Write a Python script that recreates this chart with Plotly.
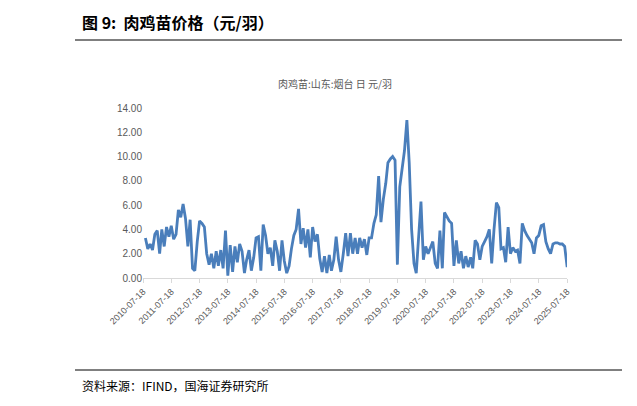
import plotly.graph_objects as go
import pandas as pd

start_month = "2010-07-18"
prices = [
 3.3,2.4,2.8,2.3,3.6,3.9, 2.0,4.0,2.6,4.2,3.4,4.3,
 3.2,3.6,5.6,5.0,6.1,4.9, 2.6,4.8,0.8,0.6,3.0,4.7,
 4.5,4.2,2.0,1.1,2.0,0.8, 2.2,1.0,2.3,0.8,3.9,0.2,
 2.7,0.5,2.6,1.3,2.8,2.2, 0.4,1.5,2.3,0.6,1.7,3.3,
 3.4,0.6,4.4,3.5,2.0,2.5, 1.0,3.1,2.2,0.6,3.1,1.4,
 0.4,1.0,2.4,3.5,4.0,5.7, 2.8,4.1,2.5,4.0,1.7,4.2,
 3.0,3.6,1.6,0.5,1.8,0.4, 1.9,0.6,1.5,3.4,1.5,0.5,
 2.0,3.7,1.8,3.7,2.0,3.3, 2.0,3.3,2.5,3.2,1.9,3.3,
 3.3,4.5,5.2,8.4,4.6,6.5, 7.8,9.5,9.8,10.0,9.7,1.1,
 7.5,9.0,10.5,13.0,9.5,4.0, 1.2,0.4,3.0,6.3,1.5,2.6,
 2.0,2.5,3.0,1.2,0.8,3.9, 0.8,5.4,5.0,4.7,4.5,1.0,
 3.1,1.2,2.2,0.8,1.8,0.9, 1.7,0.8,3.1,2.8,1.5,2.6,
 3.0,3.4,4.0,1.2,4.0,6.2, 5.8,2.4,2.5,1.3,4.2,2.0,
 2.5,2.2,2.3,1.2,4.5,3.9, 3.5,3.2,2.9,2.0,3.3,3.5,
 4.3,4.4,3.0,2.4,2.0,2.8, 2.9,2.9,2.8,2.8,2.6,1.0, 1.0,
]
dates = pd.date_range(start_month, periods=len(prices), freq="MS") + pd.Timedelta(days=17)
tick_labels = [f"{y}-07-18" for y in range(2010, 2026)]
y_ticks = [0, 2, 4, 6, 8, 10, 12, 14]

L, T, W, H = 135, 100, 424, 170
def px(x): return (x - L) / W
def py(y): return (T + H - y) / H

fig = go.Figure(go.Scatter(x=dates, y=prices, mode="lines",
                           line=dict(color="#4a7ebb", width=2.8)))
fig.update_layout(
    width=637, height=406, margin=dict(l=L, r=637-L-W, t=T, b=406-T-H),
    paper_bgcolor="white", plot_bgcolor="white", showlegend=False,
    font=dict(family="Noto Sans CJK SC", color="#595959"),
    xaxis=dict(type="date", range=["2010-07-18", "2025-07-18"],
               tickvals=tick_labels, ticktext=tick_labels, tickangle=-45,
               showgrid=False, showline=True, linecolor="#d9d9d9",
               ticks="outside", tickcolor="#d9d9d9", ticklen=4,
               tickfont=dict(size=9, family="Liberation Sans", color="#595959")),
    yaxis=dict(range=[0, 14], tickvals=y_ticks,
               ticktext=[f"{v:.2f}" for v in y_ticks], showgrid=False,
               zeroline=False, showline=False,
               tickfont=dict(size=10, family="Liberation Sans", color="#595959")),
)
fig.add_annotation(text="<b>图 9:  肉鸡苗价格（元/羽）</b>", xref="paper", yref="paper",
                   x=px(72), y=py(14), xanchor="left", yanchor="middle",
                   showarrow=False, font=dict(size=16, color="#000000", family="Noto Sans CJK SC"))
fig.add_annotation(text="肉鸡苗:山东:烟台 日 元/羽", xref="paper", yref="paper",
                   x=px(327), y=py(75), xanchor="center", yanchor="middle",
                   showarrow=False, font=dict(size=10, color="#595959", family="Noto Sans CJK SC"))
fig.add_annotation(text="资料来源：IFIND，国海证券研究所", xref="paper", yref="paper",
                   x=px(72), y=py(377), xanchor="left", yanchor="middle",
                   showarrow=False, font=dict(size=12, color="#000000", family="Noto Sans CJK SC"))
fig.add_shape(type="line", xref="paper", yref="paper", x0=px(67), x1=px(614),
              y0=py(32), y1=py(32), line=dict(color="black", width=1.2))
fig.add_shape(type="line", xref="paper", yref="paper", x0=px(67), x1=px(614),
              y0=py(362), y1=py(362), line=dict(color="black", width=1))
fig.write_html("out.html")
